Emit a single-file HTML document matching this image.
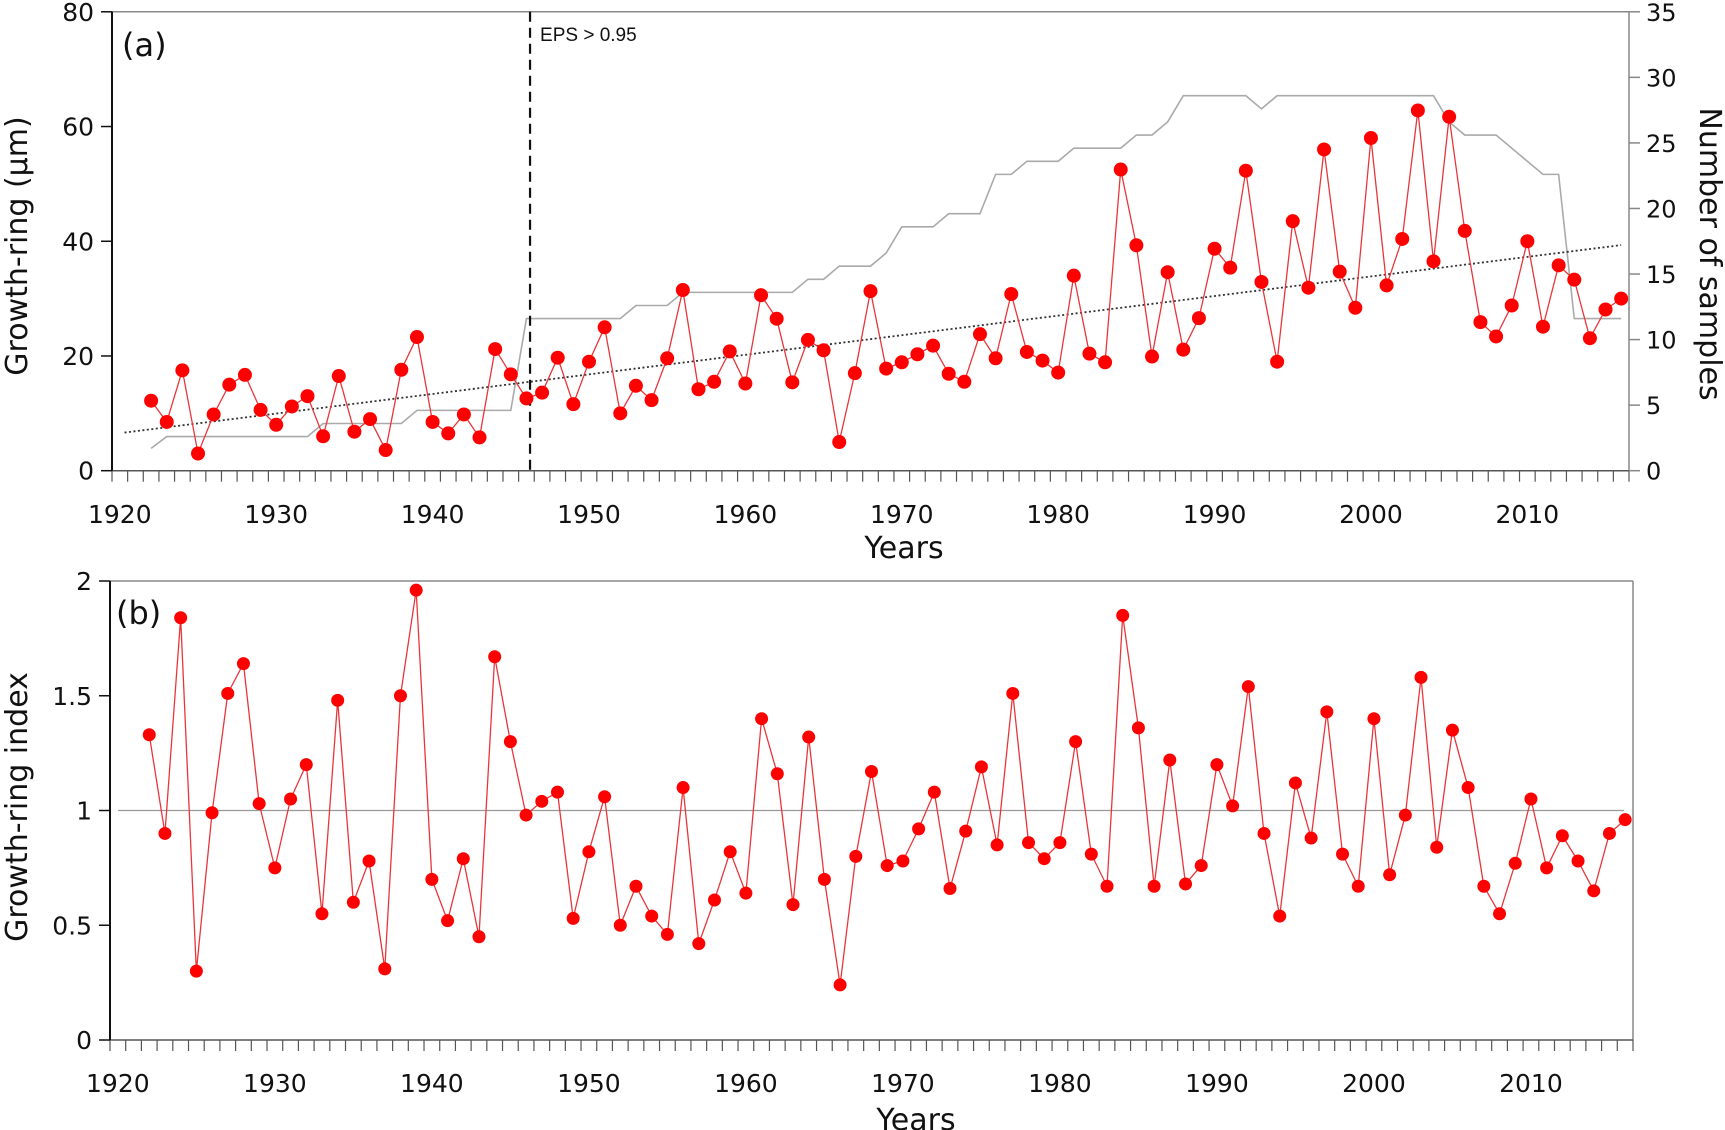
<!DOCTYPE html>
<html><head><meta charset="utf-8">
<style>
html,body{margin:0;padding:0;background:#fff;}
svg{display:block;font-family:"Liberation Sans",sans-serif;}
.t{font-family:"DejaVu Sans","Liberation Sans",sans-serif;}
</style></head>
<body>
<svg id="chart" width="1725" height="1130" viewBox="0 0 1725 1130" xmlns="http://www.w3.org/2000/svg"></svg>
<script>
const years = [];
for (let y = 1922; y <= 2016; y++) years.push(y);
const ringWidth = [12.2,8.5,17.5,3,9.8,15,16.7,10.6,8,11.2,13,6,16.5,6.8,9,3.6,17.6,23.3,8.5,6.5,9.8,5.8,21.2,16.8,12.6,13.6,19.7,11.6,19,25,10,14.8,12.3,19.6,31.5,14.2,15.5,20.8,15.2,30.6,26.5,15.4,22.8,21,5,17,31.3,17.8,18.9,20.3,21.8,16.9,15.5,23.8,19.6,30.8,20.7,19.2,17.1,34,20.4,18.9,52.5,39.3,19.9,34.6,21.1,26.6,38.7,35.4,52.3,32.9,19,43.5,31.9,56,34.7,28.4,58,32.3,40.4,62.8,36.5,61.7,41.8,25.9,23.4,28.8,40,25.1,35.8,33.3,23.1,28.1,30];
const sampleCount = [1.7,2.6,2.6,2.6,2.6,2.6,2.6,2.6,2.6,2.6,2.6,3.6,3.6,3.6,3.6,3.6,3.6,4.6,4.6,4.6,4.6,4.6,4.6,4.6,11.6,11.6,11.6,11.6,11.6,11.6,11.6,12.6,12.6,12.6,13.6,13.6,13.6,13.6,13.6,13.6,13.6,13.6,14.6,14.6,15.6,15.6,15.6,16.6,18.6,18.6,18.6,19.6,19.6,19.6,22.6,22.6,23.6,23.6,23.6,24.6,24.6,24.6,24.6,25.6,25.6,26.6,28.6,28.6,28.6,28.6,28.6,27.6,28.6,28.6,28.6,28.6,28.6,28.6,28.6,28.6,28.6,28.6,28.6,26.6,25.6,25.6,25.6,24.6,23.6,22.6,22.6,11.6,11.6,11.6,11.6];
const ringIndex = [1.33,0.9,1.84,0.3,0.99,1.51,1.64,1.03,0.75,1.05,1.2,0.55,1.48,0.6,0.78,0.31,1.5,1.96,0.7,0.52,0.79,0.45,1.67,1.3,0.98,1.04,1.08,0.53,0.82,1.06,0.5,0.67,0.54,0.46,1.1,0.42,0.61,0.82,0.64,1.4,1.16,0.59,1.32,0.7,0.24,0.8,1.17,0.76,0.78,0.92,1.08,0.66,0.91,1.19,0.85,1.51,0.86,0.79,0.86,1.3,0.81,0.67,1.85,1.36,0.67,1.22,0.68,0.76,1.2,1.02,1.54,0.9,0.54,1.12,0.88,1.43,0.81,0.67,1.4,0.72,0.98,1.58,0.84,1.35,1.1,0.67,0.55,0.77,1.05,0.75,0.89,0.78,0.65,0.9,0.96];
const yTicksA = [0,20,40,60,80];
const yTicksA2 = [0,5,10,15,20,25,30,35];
const yTicksB = [0,0.5,1,1.5,2];
const yTickLabelsB = ["0","0.5","1","1.5","2"];
const xLabelYears = [1920,1930,1940,1950,1960,1970,1980,1990,2000,2010];
const epsYear = 1946.23;

const NS = "http://www.w3.org/2000/svg";
const svg = document.getElementById("chart");
function mk(tag, attrs, parent, text){
  const e = document.createElementNS(NS, tag);
  for (const k in attrs) e.setAttribute(k, attrs[k]);
  if (text !== undefined) e.textContent = text;
  (parent || svg).appendChild(e);
  return e;
}

// ---------- Panel A ----------
const A = {l:112, r:1629, t:11.8, b:470.7};
const xA = y => A.l + (y - 1919.5) * (A.r - A.l) / 97;
const yA = v => A.b - v / 80 * (A.b - A.t);
const yA2 = v => A.b - v / 35 * (A.b - A.t);
const gA = mk("g", {});



let e;
e = mk("line", {x1:A.l, y1:A.t, x2:A.r, y2:A.t, stroke:"#888", "stroke-width":1.5}, gA);


e = mk("line", {x1:A.r, y1:A.t, x2:A.r, y2:A.b, stroke:"#888", "stroke-width":1.5}, gA);


e = mk("line", {x1:A.l, y1:A.b, x2:A.r, y2:A.b, stroke:"#555", "stroke-width":1.5}, gA);


e = mk("line", {x1:A.l, y1:A.t, x2:A.l, y2:A.b, stroke:"#111", "stroke-width":2}, gA);



for (let i = 0; i <= 97; i++) {
  const x = A.l + i * (A.r - A.l) / 97;
  e = mk("line", {x1:x, y1:A.b, x2:x, y2:A.b + 11, stroke:"#555", "stroke-width":1.2}, gA);
  
  
}
yTicksA.forEach(v => {
  e = mk("line", {x1:A.l - 11, y1:yA(v), x2:A.l, y2:yA(v), stroke:"#111", "stroke-width":1.5}, gA);
  
  
  e = mk("text", {x:A.l - 18, y:yA(v) + 9, "text-anchor":"end", "font-size":25, fill:"#111", class:"t"}, gA, String(v));
  
  
});
yTicksA2.forEach(v => {
  e = mk("line", {x1:A.r, y1:yA2(v), x2:A.r + 11, y2:yA2(v), stroke:"#888", "stroke-width":1.5}, gA);
  
  
  e = mk("text", {x:A.r + 17, y:yA2(v) + 9, "text-anchor":"start", "font-size":24, fill:"#111", class:"t"}, gA, String(v));
  
  
});
xLabelYears.forEach(y => {
  e = mk("text", {x:xA(y), y:523, "text-anchor":"middle", "font-size":25, fill:"#111", class:"t"}, gA, String(y));
  
  
});

e = mk("polyline", {points: years.map((y,i)=>xA(y)+","+yA2(sampleCount[i])).join(" "), fill:"none", stroke:"#aaa", "stroke-width":1.6}, gA);



const n = years.length;
const mx = years.reduce((a,b)=>a+b,0)/n, my = ringWidth.reduce((a,b)=>a+b,0)/n;
let sxy=0, sxx=0;
years.forEach((y,i)=>{sxy+=(y-mx)*(ringWidth[i]-my); sxx+=(y-mx)*(y-mx);});
const slope = sxy/sxx, icpt = my - slope*mx;
e = mk("line", {x1:xA(1920.3), y1:yA(icpt+slope*1920.3), x2:xA(2016), y2:yA(icpt+slope*2016), stroke:"#333", "stroke-width":1.8, "stroke-dasharray":"2,2.5"}, gA);



e = mk("line", {x1:xA(epsYear), y1:A.t, x2:xA(epsYear), y2:A.b, stroke:"#111", "stroke-width":2.2, "stroke-dasharray":"10,6"}, gA);


e = mk("text", {x:xA(epsYear)+10, y:41, "font-size":19, fill:"#111"}, gA, "EPS > 0.95");



e = mk("polyline", {points: years.map((y,i)=>xA(y)+","+yA(ringWidth[i])).join(" "), fill:"none", stroke:"#e8363a", "stroke-width":1.3}, gA);


years.forEach((y,i)=>{
  e = mk("circle", {cx:xA(y), cy:yA(ringWidth[i]), r:7, fill:"#f00"}, gA);
  
  
});

e = mk("text", {x:122, y:56, "font-size":32, fill:"#111", class:"t"}, gA, "(a)");


e = mk("text", {x:904, y:558, "text-anchor":"middle", "font-size":30, fill:"#111", class:"t"}, gA, "Years");


e = mk("text", {x:0, y:0, "text-anchor":"middle", "font-size":30, fill:"#111", class:"t", transform:"translate(27,246) rotate(-90)"}, gA, "Growth-ring (µm)");


e = mk("text", {x:0, y:0, "text-anchor":"middle", "font-size":30, fill:"#111", class:"t", transform:"translate(1700,254) rotate(90)"}, gA, "Number of samples");



// ---------- Panel B ----------
const B = {l:110, r:1633, t:581, b:1040};
const xB = y => B.l + (y - 1919.5) * (B.r - B.l) / 97;
const yB = v => B.b - v / 2 * (B.b - B.t);
const gB = mk("g", {});



e = mk("line", {x1:B.l, y1:B.t, x2:B.r, y2:B.t, stroke:"#888", "stroke-width":1.5}, gB);


e = mk("line", {x1:B.r, y1:B.t, x2:B.r, y2:B.b, stroke:"#888", "stroke-width":1.5}, gB);


e = mk("line", {x1:B.l, y1:B.b, x2:B.r, y2:B.b, stroke:"#555", "stroke-width":1.5}, gB);


e = mk("line", {x1:B.l, y1:B.t, x2:B.l, y2:B.b, stroke:"#111", "stroke-width":2}, gB);


for (let i = 0; i <= 97; i++) {
  const x = B.l + i * (B.r - B.l) / 97;
  e = mk("line", {x1:x, y1:B.b, x2:x, y2:B.b + 11, stroke:"#555", "stroke-width":1.2}, gB);
  
  
}
yTicksB.forEach((v,i) => {
  e = mk("line", {x1:B.l - 11, y1:yB(v), x2:B.l, y2:yB(v), stroke:"#111", "stroke-width":1.5}, gB);
  
  
  e = mk("text", {x:B.l - 18, y:yB(v) + 9, "text-anchor":"end", "font-size":25, fill:"#111", class:"t"}, gB, yTickLabelsB[i]);
  
  
});
xLabelYears.forEach(y => {
  e = mk("text", {x:xB(y), y:1092, "text-anchor":"middle", "font-size":25, fill:"#111", class:"t"}, gB, String(y));
  
  
});
e = mk("line", {x1:118, y1:yB(1), x2:1624, y2:yB(1), stroke:"#999", "stroke-width":1.2}, gB);


e = mk("polyline", {points: years.map((y,i)=>xB(y)+","+yB(ringIndex[i])).join(" "), fill:"none", stroke:"#e8363a", "stroke-width":1.3}, gB);


years.forEach((y,i)=>{
  e = mk("circle", {cx:xB(y), cy:yB(ringIndex[i]), r:6.5, fill:"#f00"}, gB);
  
  
});
e = mk("text", {x:116, y:624, "font-size":32, fill:"#111", class:"t"}, gB, "(b)");


e = mk("text", {x:916, y:1130, "text-anchor":"middle", "font-size":30, fill:"#111", class:"t"}, gB, "Years");


e = mk("text", {x:0, y:0, "text-anchor":"middle", "font-size":30, fill:"#111", class:"t", transform:"translate(27,807) rotate(-90)"}, gB, "Growth-ring index");


</script>
</body></html>
